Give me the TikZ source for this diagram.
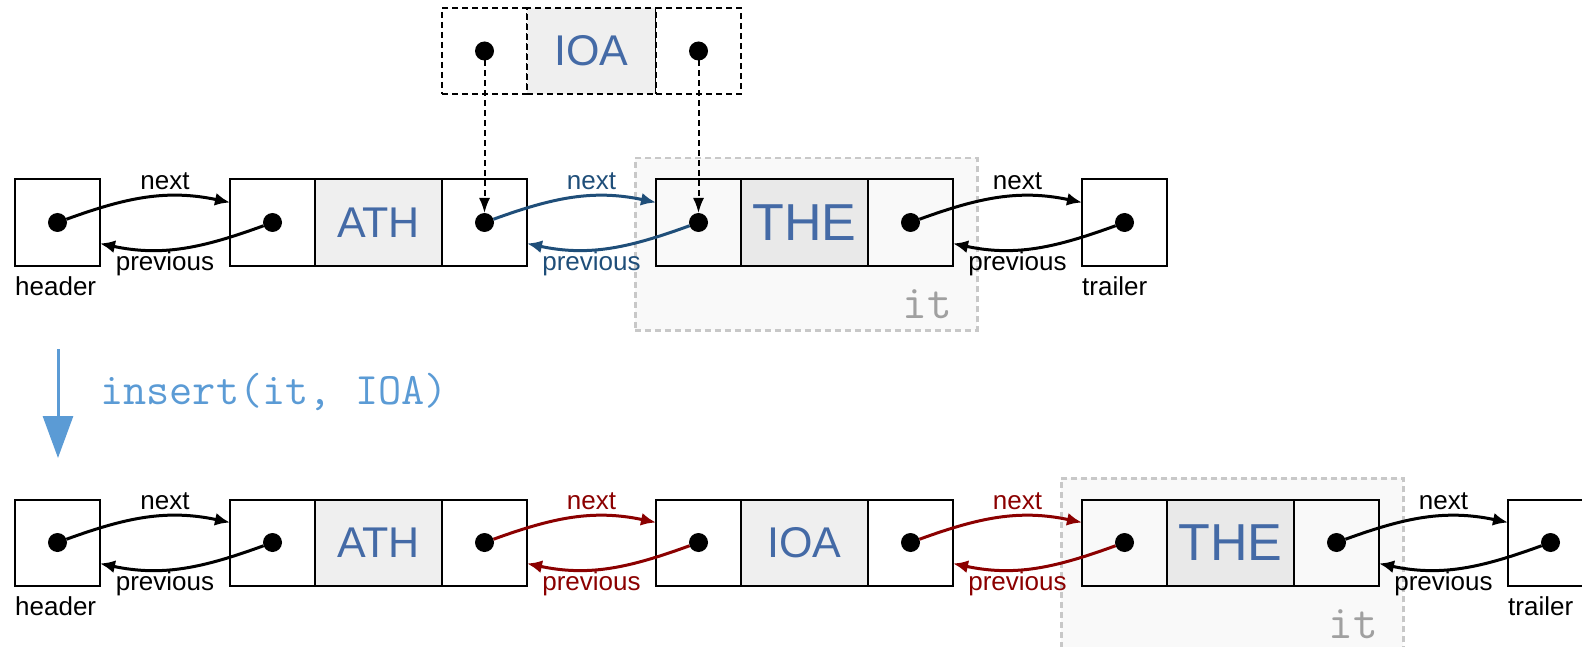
\documentclass[tikz,border=0pt]{standalone}
\usepackage{fontspec}
\setmainfont{Liberation Sans}
\usetikzlibrary{arrows.meta,calc}
\definecolor{txtblue}{RGB}{68,106,166}
\definecolor{linkblue}{RGB}{31,78,121}
\definecolor{linkred}{RGB}{139,0,0}
\definecolor{insblue}{RGB}{91,155,213}
\definecolor{itdash}{RGB}{200,200,200}
\definecolor{itfill}{RGB}{249,249,249}
\definecolor{ittext}{RGB}{160,160,160}
\definecolor{midfill}{RGB}{239,239,239}
\definecolor{itmid}{RGB}{233,233,233}
\newcommand{\lblfont}{\fontsize{26}{30}\selectfont}
\newcommand{\valfont}{\fontsize{43}{48}\selectfont}
\newcommand{\bigvalfont}{\fontsize{52}{58}\selectfont}
\newcommand{\dlnode}[7]{%
  \node[cellbox, fill=#7, minimum width=85pt] (#1L) at (#2,#3) {};
  \node[cellbox, fill=#6, minimum width=127pt, font=#5] (#1M) at (#1L.north east) {#4};
  \node[cellbox, fill=#7, minimum width=85pt] (#1R) at (#1M.north east) {};
  \node[dot] (#1Ld) at (#1L.center) {};
  \node[dot] (#1Rd) at (#1R.center) {};}
\newcommand{\dlink}[6]{%
  \draw[conn, #5] (#2) to[out=20,in=168] ($(#3.west)+(0,-20)$);
  \draw[conn, #5] (#4) to[out=200,in=-12] ($(#1.east)+(0,21)$);
  \node[lbl, text=#5, anchor=base] (#6n) at ($(#1.east)!0.5!(#3.west)+(0,-33)$) {next};
  \node[lbl, text=#5, anchor=base] (#6p) at ($(#1.east)!0.5!(#3.west)+(0,48)$) {previous};}
\begin{document}
\begin{tikzpicture}[x=1pt,y=-1pt,
  cellbox/.style={draw, line width=2pt, anchor=north west, minimum height=86pt,
    inner sep=0pt, outer sep=0pt, text=txtblue},
  dcell/.style={cellbox, dash pattern=on 6pt off 4pt},
  dot/.style={circle, fill=black, minimum size=19pt, inner sep=0pt, outer sep=0pt},
  conn/.style={line width=3pt, -{Latex[length=15pt,width=13pt]}},
  dasharr/.style={line width=2pt, dash pattern=on 6pt off 4pt, -{Latex[length=15pt,width=11pt]}},
  lbl/.style={font=\lblfont, inner sep=0pt},
  itbox/.style={draw=itdash, fill=itfill, line width=2.5pt, dash pattern=on 6pt off 4pt,
    anchor=north west, inner sep=0pt, minimum width=342pt, minimum height=172pt},
  itlbl/.style={font=\ttfamily\fontsize{48}{52}\selectfont, text=ittext, inner sep=0pt, anchor=base east},
  insarrow/.style={draw=insblue, line width=3pt, -{Triangle[length=42pt,width=30pt]}}
]
\useasboundingbox (0,0) rectangle (1582,647);
\clip (0,0) rectangle (1582,647);

% iterator boxes
\node[itbox] (itA) at (634,157) {};
\node[itlbl] (itAt) at ($(itA.south east)+(-26,-13)$) {it};
\node[itbox] (itB) at (1060,477) {};
\node[itlbl] (itBt) at ($(itB.south east)+(-26,-13)$) {it};

% ---------- top: new node IOA ----------
\node[dcell, fill=white, minimum width=85pt] (tL) at (442,8) {};
\node[dcell, fill=midfill, minimum width=129pt, font=\valfont] (tM) at (tL.north east) {IOA};
\node[dcell, fill=white, minimum width=85pt] (tR) at (tM.north east) {};
\node[dot] (tLd) at (tL.center) {};
\node[dot] (tRd) at (tR.center) {};

% ---------- row 1 ----------
\node[cellbox, fill=white, minimum width=85pt] (h1) at (15,179.5) {};
\node[dot] (h1d) at (h1.center) {};
\node[lbl, anchor=base west] (h1t) at ($(h1.south west)+(0,30)$) {header};
\dlnode{a1}{230}{179.5}{ATH}{\valfont}{midfill}{white}
\dlnode{e1}{656}{179.5}{THE}{\bigvalfont}{itmid}{itfill}
\node[cellbox, fill=white, minimum width=85pt] (t1) at (1082,179.5) {};
\node[dot] (t1d) at (t1.center) {};
\node[lbl, anchor=base west] (t1t) at ($(t1.south west)+(0,30)$) {trailer};

\dlink{h1}{h1d}{a1L}{a1Ld}{black}{k1}
\dlink{a1R}{a1Rd}{e1L}{e1Ld}{linkblue}{k2}
\dlink{e1R}{e1Rd}{t1}{t1d}{black}{k3}

\draw[dasharr] (tLd) -- (a1Rd);
\draw[dasharr] (tRd) -- (e1Ld);

% ---------- operation ----------
\coordinate (insA) at (58,349);
\coordinate (insB) at (58,458);
\draw[insarrow] (insA) -- (insB);
\node[anchor=base west, inner sep=0pt, font=\ttfamily\fontsize{45}{50}\selectfont, text=insblue]
  (instxt) at (100,404) {insert(it, IOA)};

% ---------- row 2 ----------
\node[cellbox, fill=white, minimum width=85pt] (h2) at (15,499.5) {};
\node[dot] (h2d) at (h2.center) {};
\node[lbl, anchor=base west] (h2t) at ($(h2.south west)+(0,30)$) {header};
\dlnode{a2}{230}{499.5}{ATH}{\valfont}{midfill}{white}
\dlnode{i2}{656}{499.5}{IOA}{\valfont}{midfill}{white}
\dlnode{e2}{1082}{499.5}{THE}{\bigvalfont}{itmid}{itfill}
\node[cellbox, fill=white, minimum width=85pt] (t2) at (1508,499.5) {};
\node[dot] (t2d) at (t2.center) {};
\node[lbl, anchor=base west] (t2t) at ($(t2.south west)+(0,30)$) {trailer};

\dlink{h2}{h2d}{a2L}{a2Ld}{black}{m1}
\dlink{a2R}{a2Rd}{i2L}{i2Ld}{linkred}{m2}
\dlink{i2R}{i2Rd}{e2L}{e2Ld}{linkred}{m3}
\dlink{e2R}{e2Rd}{t2}{t2d}{black}{m4}
\end{tikzpicture}
\end{document}
